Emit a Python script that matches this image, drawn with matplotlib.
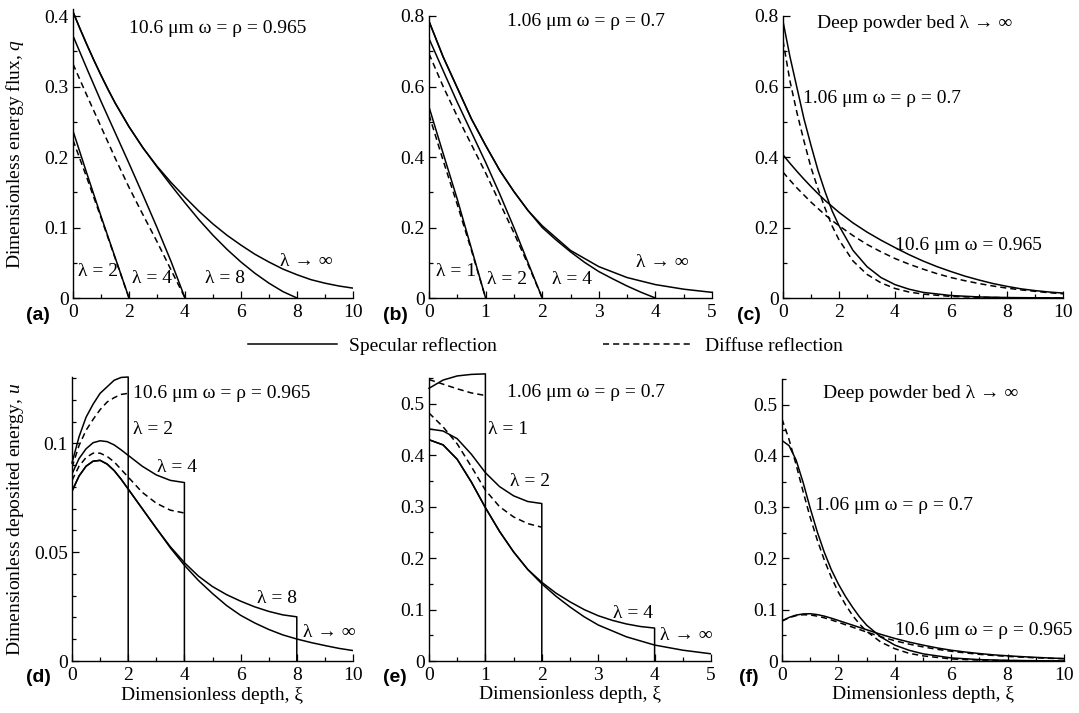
import matplotlib
matplotlib.use("Agg")
import matplotlib.pyplot as plt
from matplotlib.ticker import MultipleLocator, FuncFormatter
from matplotlib.lines import Line2D

plt.rcParams['font.family'] = ['Liberation Serif', 'DejaVu Serif']
plt.rcParams['mathtext.fontset'] = 'custom'
plt.rcParams['mathtext.rm'] = 'Liberation Serif'
plt.rcParams['mathtext.it'] = 'Liberation Serif:italic'

# ---- energy flux q, 10.6 um (panels a, c) ----
q106_inf_x = [0, .25, .5, .75, 1, 1.25, 1.5, 1.75, 2, 2.5, 3, 3.5, 4, 4.5, 5, 5.5, 6, 6.5, 7, 7.5,
              8, 8.5, 9, 9.5, 10]
q106_inf_spec = [.406, .382, .359, .337, .316, .296, .277, .260, .243, .213, .187, .164, .143, .123,
                 .105, .089, .075, .062, .051, .041, .033, .026, .021, .017, .014]
q106_inf_diff = [.357, .334, .312, .292, .272, .254, .236, .220, .205, .177, .152, .131, .112, .096,
                 .082, .069, .058, .049, .041, .034, .028, .023, .019, .015, .012]
q106_l8_x = [0, .25, .5, .75, 1, 1.25, 1.5, 1.75, 2, 2.5, 3, 3.5, 4, 4.5, 5, 5.5, 6, 6.5, 7, 7.5, 8]
q106_l8_spec = [.406, .382, .359, .337, .316, .296, .277, .260, .243, .213, .186, .160, .135, .111,
                .089, .069, .051, .035, .021, .009, 0]
q106_l4_x = [0, .5, 1, 1.5, 2, 2.5, 3, 3.5, 4]
q106_l4_spec = [.372, .325, .279, .235, .191, .146, .100, .052, 0]
q106_l4_diff = [.332, .287, .243, .199, .157, .118, .080, .040, 0]
q106_l2_x = [0, .5, 1, 1.5, 2]
q106_l2_spec = [.237, .176, .116, .058, 0]
q106_l2_diff = [.224, .170, .114, .057, 0]

# ---- energy flux q, 1.06 um (panels b, c) ----
q1_inf_x = [0, .25, .5, .75, 1, 1.25, 1.5, 1.75, 2, 2.5, 3, 3.5, 4, 4.5, 5, 6, 7, 8, 9, 10]
q1_inf_spec = [.785, .684, .596, .508, .433, .362, .302, .248, .205, .135, .089, .058, .038, .025,
               .016, .007, .003, .0013, .0006, .0002]
q1_inf_diff = [.73, .615, .525, .445, .37, .31, .255, .205, .165, .105, .067, .043, .027, .017,
               .011, .0045, .002, .0008, .0003, .0001]
q1_l4_x = [0, .25, .5, .75, 1, 1.25, 1.5, 1.75, 2, 2.25, 2.5, 2.75, 3, 3.25, 3.5, 3.75, 4]
q1_l4_spec = [.785, .684, .596, .508, .433, .362, .302, .248, .200, .164, .131, .101, .075, .054,
              .034, .016, 0]
q1_l2_x = [0, .25, .5, .75, 1, 1.25, 1.5, 1.75, 2]
q1_l2_spec = [.736, .645, .555, .47, .385, .295, .20, .10, 0]
q1_l2_diff = [.693, .60, .515, .435, .355, .27, .185, .095, 0]
q1_l1_x = [0, .25, .5, .75, 1]
q1_l1_spec = [.542, .41, .28, .14, 0]
q1_l1_diff = [.52, .39, .265, .135, 0]

# ---- deposited energy u, 10.6 um (panels d, f) ----
u106_inf_x = [0, .25, .5, .75, 1, 1.25, 1.5, 1.75, 2, 2.5, 3, 3.5, 4, 4.5, 5, 5.5, 6, 6.5, 7, 7.5,
              8, 8.5, 9, 9.5, 10]
u106_inf_spec = [.078, .085, .0895, .0918, .0922, .0905, .0875, .0835, .079, .070, .061, .052, .044,
                 .037, .031, .0255, .021, .0175, .0145, .012, .0101, .0085, .0071, .0058, .0048]
u106_inf_diff = [.078, .0845, .0885, .0902, .0898, .0875, .0842, .080, .0755, .066, .0565, .0475,
                 .0395, .033, .0275, .0228, .019, .0158, .013, .0108, .009, .0075, .0062, .0052, .0044]
u106_l8_x = [0, .25, .5, .75, 1, 1.25, 1.5, 1.75, 2, 2.5, 3, 3.5, 4, 4.5, 5, 5.5, 6, 6.5, 7, 7.5, 8, 8]
u106_l8_spec = [.078, .085, .0895, .0918, .0922, .0905, .0875, .0835, .079, .070, .061, .0525, .0452,
                .039, .0342, .0305, .0275, .0249, .0228, .0212, .0203, 0]
u106_l4_x = [0, .25, .5, .75, 1, 1.25, 1.5, 1.75, 2, 2.5, 3, 3.5, 4]
u106_l4_spec = [.086, .093, .0975, .1003, .1012, .1008, .0993, .097, .0945, .0895, .0855, .083, .082]
u106_l4_diff = [.083, .0895, .0935, .0955, .0955, .094, .0915, .088, .0845, .0775, .0725, .0693, .068]
u106_l2_x = [0, .25, .5, .75, 1, 1.25, 1.5, 1.75, 2]
u106_l2_spec = [.091, .103, .112, .118, .123, .126, .129, .1303, .1305]
u106_l2_diff = [.089, .099, .106, .111, .1155, .119, .121, .1225, .123]

# ---- deposited energy u, 1.06 um (panels e, f) ----
u1_inf_x = [0, .25, .5, .75, 1, 1.25, 1.5, 1.75, 2, 2.25, 2.5, 2.75, 3, 3.5, 4, 4.5, 5, 6, 7, 8, 9, 10]
u1_inf_spec = [.430, .420, .392, .348, .298, .252, .212, .178, .150, .126, .105, .086, .070, .047,
               .031, .021, .014, .006, .0027, .0012, .0005, .0002]
u1_inf_diff = [.472, .432, .383, .330, .280, .236, .197, .163, .134, .110, .089, .072, .058, .037,
               .024, .015, .010, .004, .0018, .0008, .0003, .0001]
u1_l4_x = [0, .25, .5, .75, 1, 1.25, 1.5, 1.75, 2, 2.25, 2.5, 2.75, 3, 3.25, 3.5, 3.75, 4]
u1_l4_spec = [.430, .420, .392, .348, .298, .252, .212, .178, .153, .132, .115, .100, .088, .079,
              .072, .067, .064]
u1_l2_x = [0, .25, .5, .75, 1, 1.25, 1.5, 1.75, 2]
u1_l2_spec = [.451, .447, .432, .402, .366, .339, .321, .310, .306]
u1_l2_diff = [.482, .455, .422, .378, .332, .300, .280, .267, .260]
u1_l1_x = [0, .25, .5, .75, 1]
u1_l1_spec = [.530, .546, .554, .557, .558]
u1_l1_diff = [.547, .538, .529, .521, .516]

W, H = 1079, 713
fig = plt.figure(figsize=(W / 100, H / 100), dpi=100)

FS = 14
LW = 1.1
DASH = (0, (4, 2.6))


def make_ax(l, r, b, t, xmax, ymax, xmaj, xmin, ymaj, ymin):
    ax = fig.add_axes([l / W, 1 - b / H, (r - l) / W, (b - t) / H])
    ax.set_xlim(0, xmax)
    ax.set_ylim(0, ymax)
    for s in ['top', 'right']:
        ax.spines[s].set_visible(False)
    for s in ['left', 'bottom']:
        ax.spines[s].set_linewidth(1.0)
    ax.xaxis.set_major_locator(MultipleLocator(xmaj))
    ax.xaxis.set_minor_locator(MultipleLocator(xmin))
    ax.yaxis.set_major_locator(MultipleLocator(ymaj))
    ax.yaxis.set_minor_locator(MultipleLocator(ymin))
    fmt = FuncFormatter(lambda v, p: '%g' % round(v, 4))
    ax.xaxis.set_major_formatter(fmt)
    ax.yaxis.set_major_formatter(fmt)
    ax.tick_params(which='both', direction='in', labelsize=FS, width=0.9)
    ax.tick_params(which='major', length=5)
    ax.tick_params(which='minor', length=3)
    ax.tick_params(axis='x', pad=4)
    ax.tick_params(axis='y', pad=3)
    return ax


def txt(ax, x, y, s):
    ax.text(x, y, s, fontsize=FS, ha='left', va='center')


# (a)
ax = make_ax(73, 353, 298, 9, 10, 0.41, 2, 1, 0.1, 0.05)
ax.plot(q106_inf_x, q106_inf_spec, 'k-', lw=LW)
ax.plot(q106_l8_x, q106_l8_spec, 'k-', lw=LW)
ax.plot(q106_l4_x, q106_l4_spec, 'k-', lw=LW)
ax.plot(q106_l4_x, q106_l4_diff, 'k', ls=DASH, lw=LW)
ax.plot(q106_l2_x, q106_l2_spec, 'k-', lw=LW)
ax.plot(q106_l2_x, q106_l2_diff, 'k', ls=DASH, lw=LW)
ax.set_ylabel('Dimensionless energy flux, $q$', fontsize=FS)
ax.yaxis.set_label_coords(-0.168, 0.5)
txt(ax, 2.0, 0.383, '10.6 μm ω = ρ = 0.965')
txt(ax, 0.18, 0.037, 'λ = 2')
txt(ax, 2.1, 0.027, 'λ = 4')
txt(ax, 4.7, 0.027, 'λ = 8')
txt(ax, 7.4, 0.052, 'λ → ∞')

# (b)
ax = make_ax(429, 712, 298, 16, 5, 0.8, 1, 0.5, 0.2, 0.1)
ax.plot(q1_inf_x, q1_inf_spec, 'k-', lw=LW)
ax.plot(q1_l4_x, q1_l4_spec, 'k-', lw=LW)
ax.plot(q1_l2_x, q1_l2_spec, 'k-', lw=LW)
ax.plot(q1_l2_x, q1_l2_diff, 'k', ls=DASH, lw=LW)
ax.plot(q1_l1_x, q1_l1_spec, 'k-', lw=LW)
ax.plot(q1_l1_x, q1_l1_diff, 'k', ls=DASH, lw=LW)
txt(ax, 1.38, 0.783, '1.06 μm ω = ρ = 0.7')
txt(ax, 0.12, 0.074, 'λ = 1')
txt(ax, 1.02, 0.052, 'λ = 2')
txt(ax, 2.17, 0.052, 'λ = 4')
txt(ax, 3.66, 0.102, 'λ → ∞')

# (c)
ax = make_ax(783, 1063, 298, 16, 10, 0.8, 2, 1, 0.2, 0.1)
ax.plot(q1_inf_x, q1_inf_spec, 'k-', lw=LW)
ax.plot(q1_inf_x, q1_inf_diff, 'k', ls=DASH, lw=LW)
ax.plot(q106_inf_x, q106_inf_spec, 'k-', lw=LW)
ax.plot(q106_inf_x, q106_inf_diff, 'k', ls=DASH, lw=LW)
txt(ax, 1.21, 0.78, 'Deep powder bed λ → ∞')
txt(ax, 0.71, 0.567, '1.06 μm ω = ρ = 0.7')
txt(ax, 4.0, 0.15, '10.6 μm ω = 0.965')

# (d)
ax = make_ax(72, 353, 661, 377, 10, 0.1305, 2, 1, 0.05, 0.01)
ax.plot(u106_inf_x, u106_inf_spec, 'k-', lw=LW)
ax.plot(u106_l8_x, u106_l8_spec, 'k-', lw=LW)
ax.plot(u106_l4_x + [4], u106_l4_spec + [0], 'k-', lw=LW)
ax.plot(u106_l4_x, u106_l4_diff, 'k', ls=DASH, lw=LW)
ax.plot(u106_l2_x + [2], u106_l2_spec + [0], 'k-', lw=LW, clip_on=False)
ax.plot(u106_l2_x, u106_l2_diff, 'k', ls=DASH, lw=LW)
ax.set_ylabel('Dimensionless deposited energy, $u$', fontsize=FS)
ax.yaxis.set_label_coords(-0.164, 0.5)
ax.set_xlabel('Dimensionless depth, ξ', fontsize=FS)
ax.xaxis.set_label_coords(0.5, -0.09)
txt(ax, 2.17, 0.1227, '10.6 μm ω = ρ = 0.965')
txt(ax, 2.17, 0.1066, 'λ = 2')
txt(ax, 3.02, 0.0888, 'λ = 4')
txt(ax, 6.58, 0.0288, 'λ = 8')
txt(ax, 8.22, 0.0133, 'λ → ∞')

# (e)
ax = make_ax(429, 711, 661, 378, 5, 0.55, 1, 0.5, 0.1, 0.05)
ax.plot(u1_inf_x, u1_inf_spec, 'k-', lw=LW)
ax.plot(u1_l4_x + [4], u1_l4_spec + [0], 'k-', lw=LW)
ax.plot(u1_l2_x + [2], u1_l2_spec + [0], 'k-', lw=LW)
ax.plot(u1_l2_x, u1_l2_diff, 'k', ls=DASH, lw=LW)
ax.plot(u1_l1_x + [1], u1_l1_spec + [0], 'k-', lw=LW, clip_on=False)
ax.plot(u1_l1_x, u1_l1_diff, 'k', ls=DASH, lw=LW)
ax.set_xlabel('Dimensionless depth, ξ', fontsize=FS)
ax.xaxis.set_label_coords(0.5, -0.09)
txt(ax, 1.38, 0.521, '1.06 μm ω = ρ = 0.7')
txt(ax, 1.05, 0.449, 'λ = 1')
txt(ax, 1.44, 0.348, 'λ = 2')
txt(ax, 3.26, 0.093, 'λ = 4')
txt(ax, 4.1, 0.05, 'λ → ∞')

# (f)
ax = make_ax(782, 1064, 661, 379, 10, 0.55, 2, 1, 0.1, 0.05)
ax.plot(u1_inf_x, u1_inf_spec, 'k-', lw=LW)
ax.plot(u1_inf_x, u1_inf_diff, 'k', ls=DASH, lw=LW)
ax.plot(u106_inf_x, u106_inf_spec, 'k-', lw=LW)
ax.plot(u106_inf_x, u106_inf_diff, 'k', ls=DASH, lw=LW)
ax.set_xlabel('Dimensionless depth, ξ', fontsize=FS)
ax.xaxis.set_label_coords(0.5, -0.09)
txt(ax, 1.45, 0.521, 'Deep powder bed λ → ∞')
txt(ax, 1.17, 0.303, '1.06 μm ω = ρ = 0.7')
txt(ax, 4.0, 0.06, '10.6 μm ω = ρ = 0.965')

# panel letters
for lab, px, py in [('(a)', 38, 316), ('(b)', 395, 316), ('(c)', 749, 316),
                    ('(d)', 38, 678), ('(e)', 395, 678), ('(f)', 749, 678)]:
    fig.text(px / W, 1 - py / H, lab, fontsize=FS, fontweight='bold',
             family='Liberation Sans', ha='center', va='center')

# legend
handles = [Line2D([], [], color='k', lw=LW, ls='-'),
           Line2D([], [], color='k', lw=LW, ls=DASH)]
fig.legend(handles, ['Specular reflection', 'Diffuse reflection'], loc='center',
           bbox_to_anchor=(545 / W, 1 - 346 / H), ncol=2, frameon=False, fontsize=FS,
           handlelength=4.6, handletextpad=0.6, columnspacing=5.5)

fig.savefig('out.png', dpi=100)
